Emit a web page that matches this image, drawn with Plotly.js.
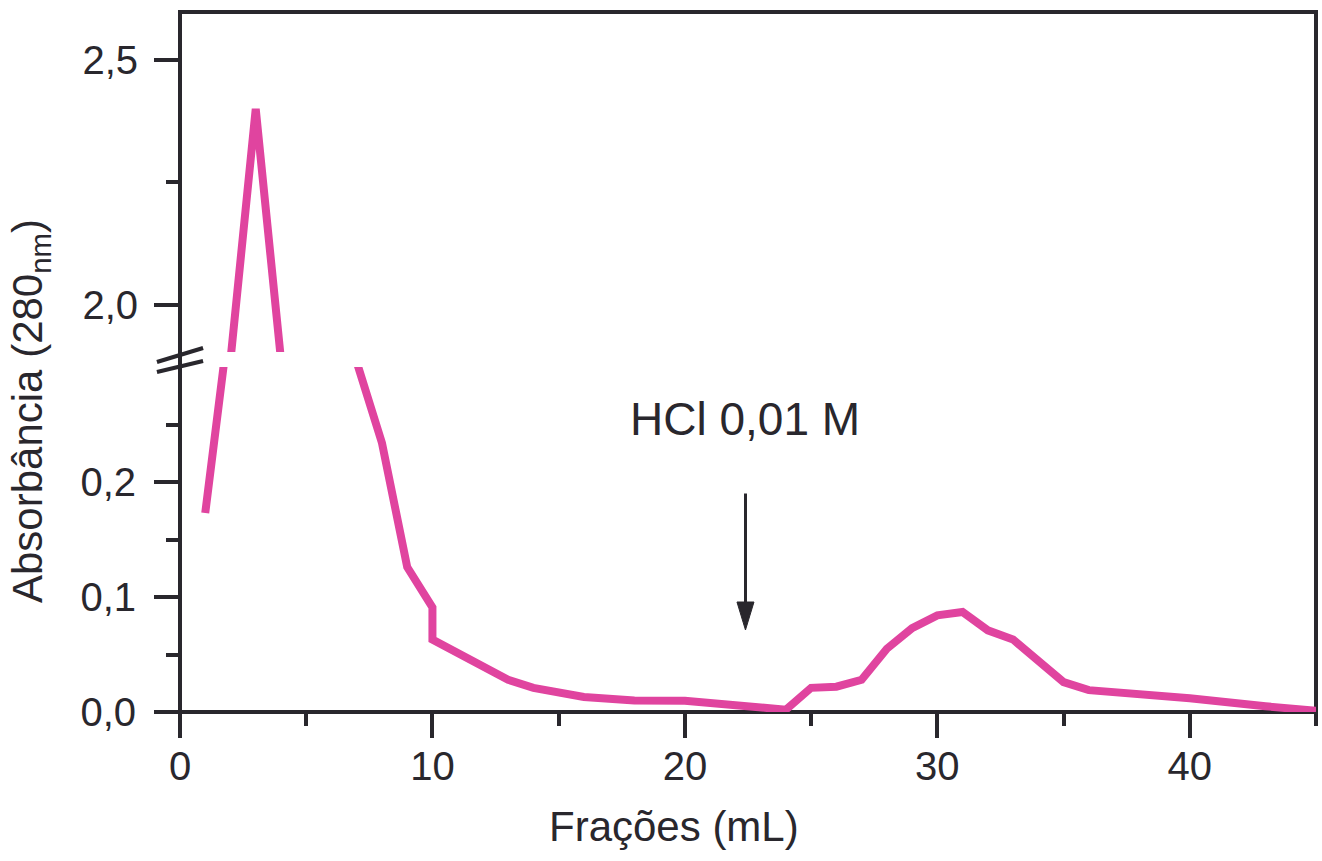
<!DOCTYPE html>
<html><head><meta charset="utf-8">
<script src="https://cdn.plot.ly/plotly-3.0.1.min.js"></script>
<style>html,body{margin:0;padding:0;background:#fff}#plot{width:1322px;height:861px}</style>
</head><body><div id="plot"></div>
<script>
// ---- data ----
const fractions  = [1, 2, 3, 4, 7, 8, 9, 10, 10, 13, 14, 16, 18, 20, 24, 25, 26, 27, 28, 29, 30, 31, 32, 33, 34, 35, 36, 40, 43, 45];
const absorbance = [0.173, 1.05, 2.40, 1.05, 0.83, 0.234, 0.126, 0.091, 0.063, 0.028, 0.021, 0.013, 0.010, 0.0098, 0.002,
                    0.021, 0.022, 0.028, 0.055, 0.073, 0.084, 0.087, 0.071, 0.063, 0.044, 0.026, 0.019, 0.012, 0.005, 0.001];

const xTickVals      = [0, 10, 20, 30, 40];
const lowerTickVals  = [0, 0.1, 0.2];
const lowerTickText  = ['0,0', '0,1', '0,2'];
const lowerMinorVals = [0.05, 0.15, 0.25];
const upperTickVals  = [2.0, 2.5];
const upperTickText  = ['2,0', '2,5'];
const upperMinorVals = [2.25];

const xTitle   = 'Frações (mL)';
const yTitle   = 'Absorbância (280<sub>nm</sub>)';
const noteText = 'HCl 0,01 M';
const arrowX = 22.4, arrowTop = 0.19, arrowTip = 0.0713;

// ---- broken axis mapping (lower 0–0.30, upper 1.904–2.598) ----
const BREAK_LOW = 0.30, BREAK_HIGH = 1.904, UPPER_TOP = 2.598;
const GAP = 15 / 1150, UPPER_SCALE = 490 / 1150;
function brk(v) {
  if (v <= BREAK_LOW) return v;
  if (v >= BREAK_HIGH) return BREAK_LOW + GAP + (v - BREAK_HIGH) * UPPER_SCALE;
  return BREAK_LOW + (v - BREAK_LOW) / (BREAK_HIGH - BREAK_LOW) * GAP;
}

const INK = '#29272d';
const LINE = '#e0449f';
const FONT = 'Liberation Sans, Arial, sans-serif';

const yMapped = absorbance.map(brk);
const traces = [
  {x: fractions, y: yMapped, xaxis: 'x', yaxis: 'y', mode: 'lines', line: {color: LINE, width: 8}, showlegend: false, hoverinfo: 'skip'},
  {x: fractions, y: yMapped, xaxis: 'x', yaxis: 'y2', mode: 'lines', line: {color: LINE, width: 8}, showlegend: false, hoverinfo: 'skip'}
];

const tickCommon = {ticks: 'outside', ticklen: 25, tickwidth: 4, tickcolor: INK, showline: false, showgrid: false, zeroline: false,
  tickfont: {family: FONT, size: 40, color: INK}, fixedrange: true};
const minorCommon = {ticks: 'outside', ticklen: 13, tickwidth: 4, tickcolor: INK, showgrid: false};

const layout = {
  width: 1322, height: 861,
  margin: {l: 180, r: 6, t: 12, b: 149},
  paper_bgcolor: '#ffffff', plot_bgcolor: 'rgba(0,0,0,0)',
  font: {family: FONT, size: 40, color: INK},
  xaxis: Object.assign({}, tickCommon, {range: [0, 45], domain: [0, 1], anchor: 'y', tickmode: 'array', tickvals: xTickVals,
    ticktext: xTickVals.map(String), ticklabelstandoff: -6,
    minor: Object.assign({}, minorCommon, {tickmode: 'linear', tick0: 0, dtick: 5})}),
  yaxis: Object.assign({}, tickCommon, {domain: [0, 345 / 700], range: [0, BREAK_LOW], anchor: 'x', tickmode: 'array',
    tickvals: lowerTickVals.map(brk), ticktext: lowerTickText, ticklabelstandoff: 10,
    minor: Object.assign({}, minorCommon, {tickmode: 'array', tickvals: lowerMinorVals.map(brk)})}),
  yaxis2: Object.assign({}, tickCommon, {domain: [360 / 700, 1], range: [brk(BREAK_HIGH), brk(UPPER_TOP)], anchor: 'x', tickmode: 'array',
    tickvals: upperTickVals.map(brk), ticktext: upperTickText, ticklabelstandoff: 8,
    minor: Object.assign({}, minorCommon, {tickmode: 'array', tickvals: upperMinorVals.map(brk)})}),
  shapes: [
    // frame
    {type: 'rect', xref: 'paper', yref: 'paper', x0: 0, x1: 1, y0: 0, y1: 1, line: {color: INK, width: 4}, layer: 'below'},
    // axis break marks
    {type: 'line', xref: 'paper', yref: 'paper', x0: -0.0203, x1: 0.0203, y0: 0.500, y1: 0.520, line: {color: INK, width: 4}, layer: 'above'},
    {type: 'line', xref: 'paper', yref: 'paper', x0: -0.0203, x1: 0.0203, y0: 0.4857, y1: 0.5014, line: {color: INK, width: 4}, layer: 'above'},
    // arrow shaft
    {type: 'line', xref: 'x', yref: 'y', x0: arrowX, x1: arrowX, y0: arrowTop, y1: arrowTip + 26 / 1150, line: {color: INK, width: 3}},
    // arrow head
    {type: 'path', xref: 'x', yref: 'y', xsizemode: 'pixel', ysizemode: 'pixel', xanchor: arrowX, yanchor: arrowTip,
      path: 'M -8.5 28 L 8.5 28 L 0 0 Z', fillcolor: INK, line: {color: INK, width: 1}}
  ],
  annotations: [
    {text: noteText, xref: 'paper', yref: 'paper', x: (745 - 180) / 1136, y: 0.418, showarrow: false,
      font: {family: FONT, size: 46, color: INK}, xanchor: 'center', yanchor: 'middle'},
    {text: xTitle, xref: 'paper', yref: 'paper', x: (674 - 180) / 1136, y: -0.163, showarrow: false,
      font: {family: FONT, size: 42, color: INK}, xanchor: 'center', yanchor: 'middle'},
    {text: yTitle, xref: 'paper', yref: 'paper', x: (30 - 180) / 1136, y: 0.43, showarrow: false, textangle: -90,
      font: {family: FONT, size: 42, color: INK}, xanchor: 'center', yanchor: 'middle'}
  ]
};

Plotly.newPlot('plot', traces, layout, {staticPlot: true, displayModeBar: false});
</script>
</body></html>
